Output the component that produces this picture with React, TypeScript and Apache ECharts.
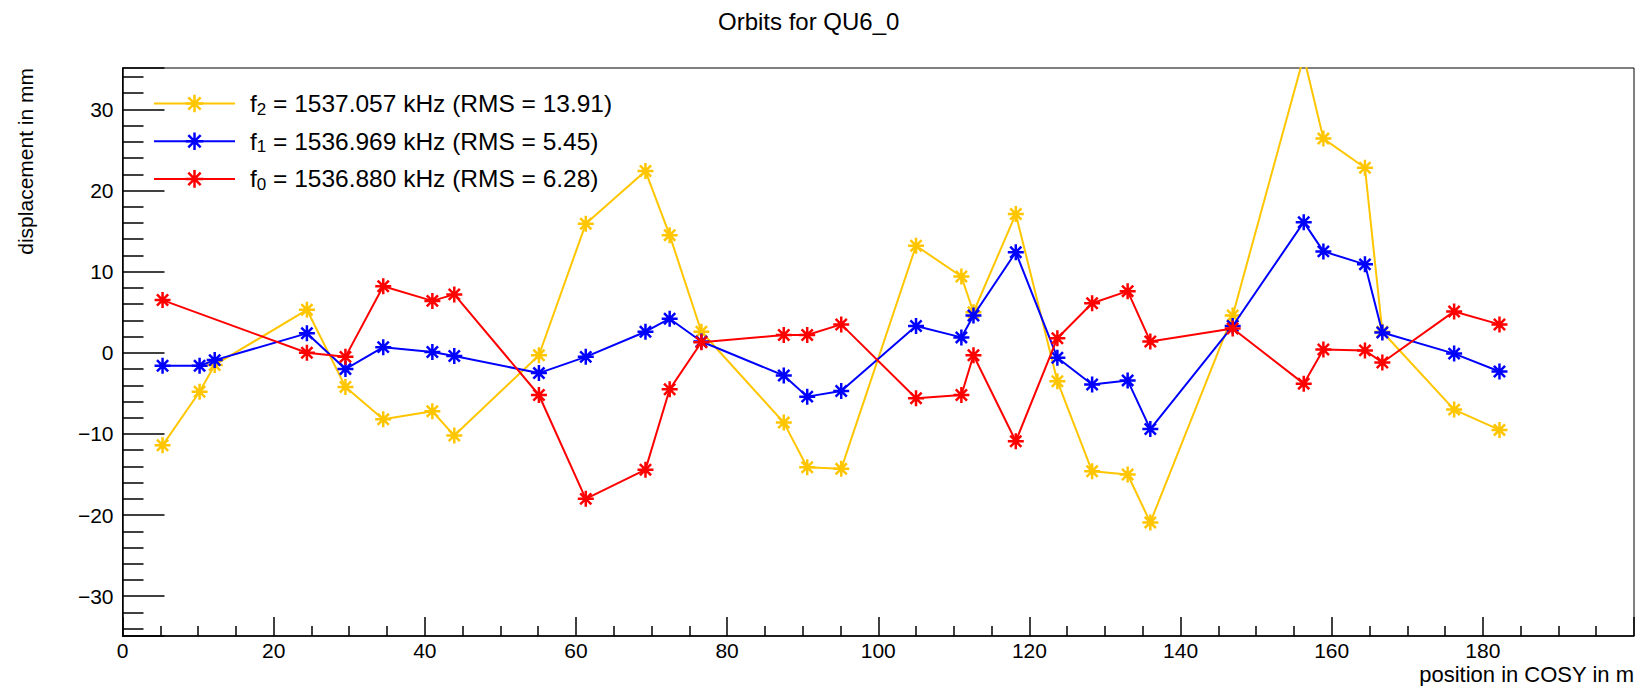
import React, { useEffect, useRef } from 'react';
import * as echarts from 'echarts';

// BPM positions in COSY (m)
const positions = [5.3, 10.2, 12.2, 24.4, 29.5, 34.5, 41.0, 43.9, 55.1, 61.3, 69.2, 72.4, 76.6, 87.5, 90.6, 95.1, 105.0, 111.0, 112.6, 118.2, 123.7, 128.3, 133.0, 136.0, 146.9, 156.3, 158.9, 164.4, 166.7, 176.2, 182.2];

// displacement in mm
const f2Values = [-11.4, -4.8, -1.5, 5.3, -4.2, -8.2, -7.2, -10.2, -0.3, 15.9, 22.4, 14.5, 2.6, -8.6, -14.1, -14.3, 13.2, 9.4, 5.0, 17.1, -3.5, -14.6, -15.0, -20.9, 4.6, 36.5, 26.4, 22.8, 2.6, -7.0, -9.5];
const f1Values = [-1.6, -1.6, -0.9, 2.4, -2.0, 0.7, 0.1, -0.4, -2.5, -0.5, 2.6, 4.2, 1.4, -2.8, -5.4, -4.7, 3.3, 1.9, 4.6, 12.4, -0.6, -3.9, -3.4, -9.4, 3.3, 16.1, 12.5, 10.9, 2.5, -0.1, -2.3];
const f0Values = [6.5, null, null, 0.0, -0.5, 8.2, 6.4, 7.2, -5.2, -18.0, -14.4, -4.5, 1.3, 2.2, 2.2, 3.5, -5.6, -5.2, -0.3, -10.9, 1.8, 6.1, 7.6, 1.4, 3.0, -3.8, 0.4, 0.3, -1.2, 5.1, 3.5];

const seriesNames = ['f2', 'f1', 'f0'];
const seriesIndexLabels = ['2', '1', '0'];
const frequencies = ['1537.057', '1536.969', '1536.880'];
const rmsValues = ['13.91', '5.45', '6.28'];
const seriesColors = ['#ffc600', '#0000ff', '#ff0000'];

const FONT = "'Liberation Sans', Arial, Helvetica, sans-serif";
const STAR = 'path://M10,0L10,20M0,10L20,10M3,3L17,17M3,17L17,3';

export default function App() {
  const ref = useRef<HTMLDivElement>(null);

  useEffect(() => {
    document.body.style.margin = '0';
    if (!ref.current) return;
    const chart = echarts.init(ref.current, null, { renderer: 'svg' });

    const valueSets = [f2Values, f1Values, f0Values];
    const series = seriesNames.map((name, k) => ({
      name,
      type: 'line',
      data: positions.map((x, i) => [x, valueSets[k][i]]),
      connectNulls: true,
      symbol: STAR,
      symbolSize: 16,
      showSymbol: true,
      lineStyle: { color: seriesColors[k], width: 2 },
      itemStyle: { color: seriesColors[k], borderColor: seriesColors[k], borderWidth: 2.5 },
      emphasis: { disabled: true },
      clip: true,
      z: 2 + k,
    }));

    const minus = (v: number) => String(v).replace('-', '\u2212');

    chart.setOption({
      animation: false,
      backgroundColor: '#ffffff',
      title: {
        text: 'Orbits for QU6_0',
        left: 718,
        top: 9,
        padding: 0,
        textStyle: { fontSize: 24, fontWeight: 'normal', color: '#000', fontFamily: FONT },
      },
      legend: {
        orient: 'vertical',
        left: 153,
        top: 91,
        padding: 0,
        itemWidth: 81,
        itemHeight: 22,
        itemGap: 11.2,
        selectedMode: false,
        data: seriesNames,
        itemStyle: { borderWidth: 2.5 },
        lineStyle: { width: 2 },
        formatter: (name: string) => {
          const k = seriesNames.indexOf(name);
          return `{g|}{m|f}{s|${seriesIndexLabels[k]}}{m| = ${frequencies[k]} kHz (RMS = ${rmsValues[k]})}`;
        },
        textStyle: {
          color: '#000',
          fontFamily: FONT,
          fontSize: 24.5,
          rich: {
            g: { width: 10 },
            m: { fontSize: 24.5, lineHeight: 28, fontFamily: FONT, color: '#000' },
            s: { fontSize: 17, lineHeight: 8, verticalAlign: 'bottom', fontFamily: FONT, color: '#000' },
          },
        },
      },
      grid: {
        left: 122.5,
        right: 12,
        top: 68,
        bottom: 50,
        show: true,
        borderColor: '#000',
        borderWidth: 1,
        backgroundColor: 'transparent',
      },
      xAxis: {
        type: 'value',
        min: 0,
        max: 200,
        interval: 20,
        axisLine: { show: true, onZero: false, lineStyle: { color: '#000', width: 1.5 } },
        axisTick: { show: true, inside: true, length: 19, lineStyle: { color: '#000', width: 1.5 } },
        minorTick: { show: true, splitNumber: 4, length: 10, lineStyle: { color: '#000', width: 1.5 } },
        splitLine: { show: false },
        axisLabel: {
          show: true,
          showMaxLabel: false,
          margin: 4,
          color: '#000',
          fontSize: 21,
          fontFamily: FONT,
          formatter: minus,
        },
      },
      yAxis: {
        type: 'value',
        min: -34.9,
        max: 35.1,
        splitNumber: 7,
        minInterval: 10,
        maxInterval: 10,
        axisLine: { show: true, onZero: false, lineStyle: { color: '#000', width: 1.5 } },
        axisTick: { show: true, inside: true, length: 42, lineStyle: { color: '#000', width: 1.5 } },
        minorTick: { show: true, splitNumber: 5, length: 21, lineStyle: { color: '#000', width: 1.5 } },
        splitLine: { show: false },
        axisLabel: {
          show: true,
          showMinLabel: false,
          showMaxLabel: false,
          margin: 9,
          color: '#000',
          fontSize: 21,
          fontFamily: FONT,
          formatter: minus,
        },
      },
      graphic: [
        {
          type: 'text',
          x: 1634,
          y: 674.5,
          style: {
            text: 'position in COSY in m',
            align: 'right',
            verticalAlign: 'middle',
            fontSize: 22,
            fontFamily: FONT,
            fill: '#000',
          },
        },
        {
          type: 'text',
          x: 25,
          y: 68,
          rotation: Math.PI / 2,
          style: {
            text: 'displacement in mm',
            align: 'right',
            verticalAlign: 'middle',
            fontSize: 21,
            fontFamily: FONT,
            fill: '#000',
          },
        },
      ],
      series,
    });

    return () => chart.dispose();
  }, []);

  return <div ref={ref} style={{ width: 1646, height: 686 }} />;
}
